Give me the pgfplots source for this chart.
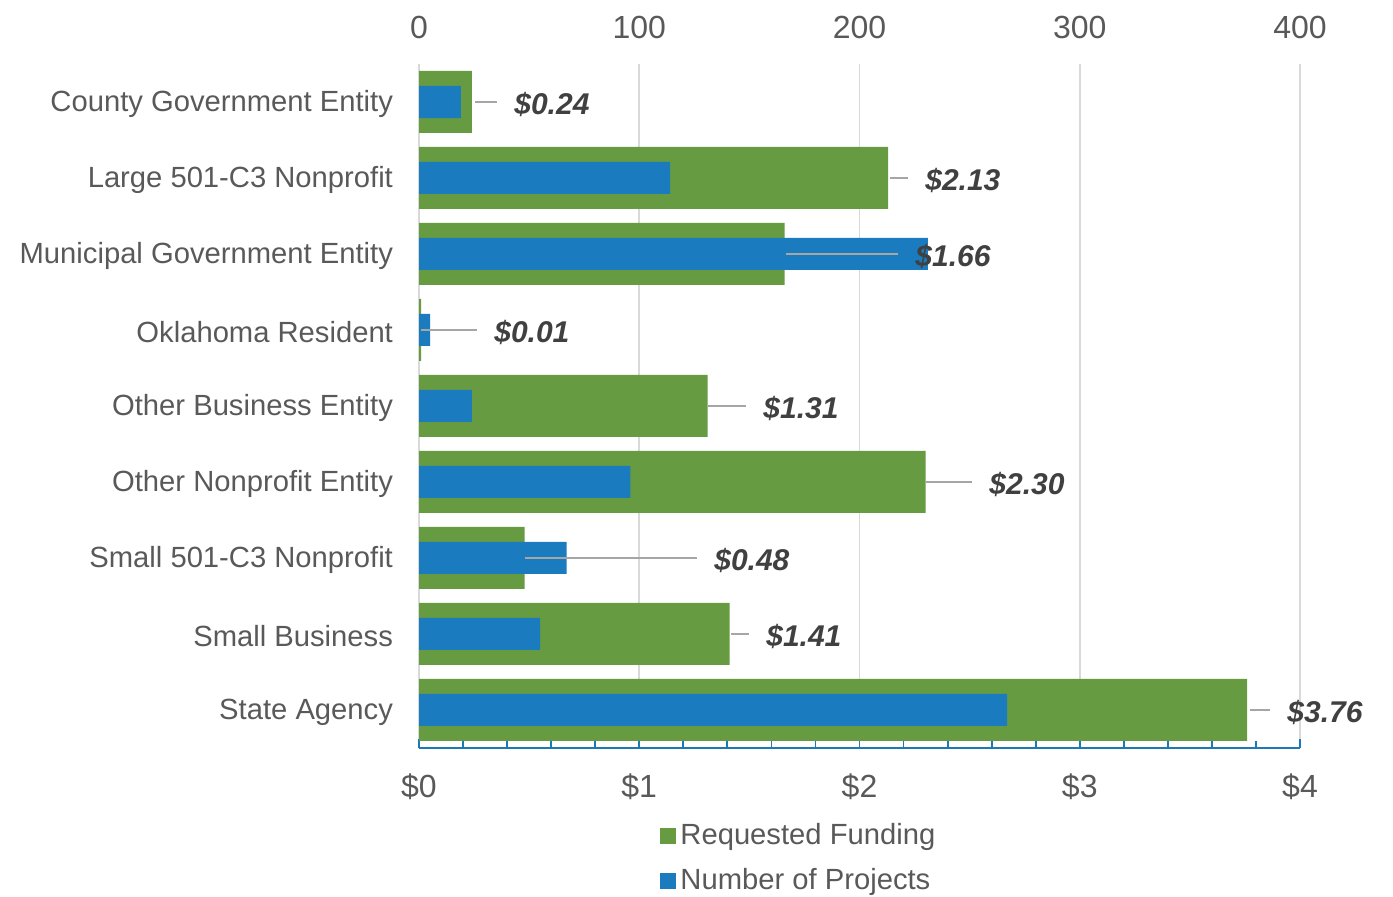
\documentclass[border=0pt]{standalone}
\usepackage{fontspec}
\setmainfont{Liberation Sans}
\usepackage{pgfplots}
\usepackage{pgfplotstable}
\pgfplotsset{compat=1.18}
\definecolor{gfund}{RGB}{102,155,65}
\definecolor{bproj}{RGB}{26,123,190}
\definecolor{txt}{RGB}{89,89,89}
\definecolor{lbl}{RGB}{64,64,64}
\definecolor{gridc}{RGB}{217,217,217}
\definecolor{lead}{RGB}{166,166,166}
\definecolor{axb}{RGB}{30,120,180}
\pgfplotsset{leader/.style={forget plot, sharp plot, draw=lead, fill=none, line width=1pt, mark=none}}
\pgfplotstableread{
y fund proj
0 0.24 19
1 2.13 114
2 1.66 231
3 0.01 5
4 1.31 24
5 2.30 96
6 0.48 67
7 1.41 55
8 3.76 267
}\datatab
\newcommand{\tfont}{\fontsize{14.6}{17}\selectfont}
\newcommand{\nfont}{\fontsize{16}{19}\selectfont}
\newcommand{\lfont}{\fontsize{15}{18}\selectfont\bfseries\itshape}
\begin{document}
\begin{tikzpicture}
\begin{axis}[name=main,
  scale only axis, width=440.5pt, height=342pt,
  xmin=0, xmax=4, ymin=-0.5, ymax=8.5, y dir=reverse,
  xbar, bar width=31pt,
  axis x line*=bottom, axis y line*=left,
  x axis line style={draw=axb, line width=0.9pt, -},
  y axis line style={draw=none},
  xtick={0,1,2,3,4}, xticklabels={\$0,\$1,\$2,\$3,\$4},
  minor x tick num=4,
  tick align=inside,
  xtick style={draw=axb, line width=0.9pt},
  minor x tick style={draw=axb, line width=0.9pt},
  major tick length=4.5pt, minor tick length=3.5pt,
  ytick={0,...,8},
  yticklabels={County Government Entity, Large 501-C3 Nonprofit\hspace{4pt}, Municipal Government Entity, Oklahoma Resident, Other Business Entity, Other Nonprofit Entity, Small 501-C3 Nonprofit\hspace{4pt}, Small Business\hspace{4pt}, State Agency},
  ytick style={draw=none},
  xmajorgrids, grid style={gridc, line width=0.8pt},
  yticklabel style={font=\tfont, text=txt, xshift=-9.5pt, yshift=-1pt},
  xticklabel style={font=\nfont, text=txt, yshift=-9.5pt},
  /pgf/number format/assume math mode=true,
]
\addplot[fill=gfund, draw=none, bar shift=0pt] table[x=fund,y=y]{\datatab};
\end{axis}
\begin{axis}[at={(main.south west)}, anchor=south west,
  scale only axis, width=440.5pt, height=342pt,
  xmin=0, xmax=400, ymin=-0.5, ymax=8.5, y dir=reverse,
  xbar, bar width=16pt, clip=false,
  axis x line*=top, x axis line style={draw=none},
  hide y axis,
  xtick={0,100,200,300,400}, xticklabels={0,100,200,300,400},
  major tick length=0pt, xtick style={draw=none},
  xticklabel style={font=\nfont, text=txt, yshift=9pt},
  legend style={at={(0.2736,-0.104)}, anchor=north west, draw=none, fill=none,
    font=\tfont, text=txt, cells={anchor=west}, row sep=6.5pt, inner sep=0pt},
  legend image code/.code={\fill[#1] (0pt,-4pt) rectangle (8pt,4pt);},
]
\addlegendimage{fill=gfund, draw=none}
\addlegendentry{Requested Funding}
\addplot[fill=bproj, draw=none, bar shift=0pt] table[x=proj,y=y]{\datatab};
\addlegendentry{Number of Projects}
\addplot[leader] coordinates {(25.4,0)(35.4,0)};
\addplot[leader] coordinates {(213.8,1)(222.0,1)};
\addplot[leader] coordinates {(166.6,2)(217.5,2)};
\addplot[leader] coordinates {(0.9,3)(26.3,3)};
\addplot[leader] coordinates {(131.2,4)(148.5,4)};
\addplot[leader] coordinates {(229.7,5)(251.1,5)};
\addplot[leader] coordinates {(48.1,6)(126.2,6)};
\addplot[leader] coordinates {(141.7,7)(149.8,7)};
\addplot[leader] coordinates {(377.3,8)(386.4,8)};
\begin{scope}[every node/.style={anchor=west, inner sep=0pt, xshift=8.5pt, yshift=-1pt, font=\lfont, text=lbl}]
\node at (axis cs:35.4,0) {\$0.24};
\node at (axis cs:222.0,1) {\$2.13};
\node at (axis cs:217.5,2) {\$1.66};
\node at (axis cs:26.3,3) {\$0.01};
\node at (axis cs:148.5,4) {\$1.31};
\node at (axis cs:251.1,5) {\$2.30};
\node at (axis cs:126.2,6) {\$0.48};
\node at (axis cs:149.8,7) {\$1.41};
\node at (axis cs:386.4,8) {\$3.76};
\end{scope}
\end{axis}
\path ([xshift=-209.5pt,yshift=-73.5pt]main.south west) rectangle ([xshift=46.5pt,yshift=32pt]main.north east);
\end{tikzpicture}
\end{document}
